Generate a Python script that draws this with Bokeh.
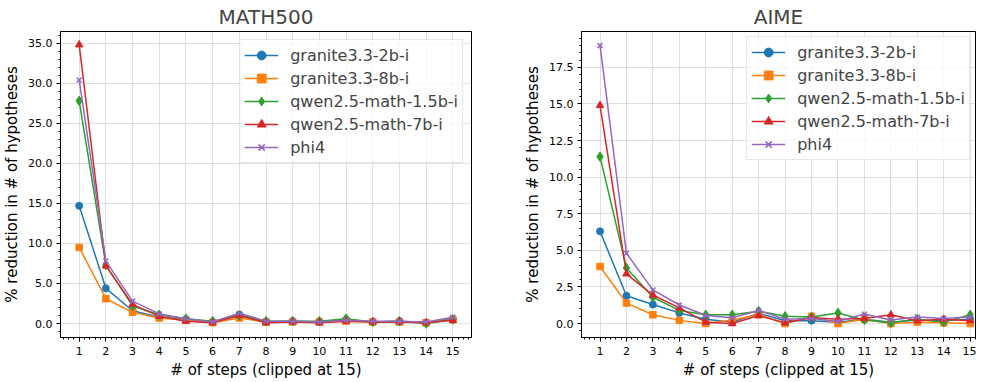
from bokeh.plotting import figure
from bokeh.layouts import row
from bokeh.models import Range1d, SingleIntervalTicker, NumeralTickFormatter, Legend, LegendItem
from bokeh.embed import file_html
from bokeh.resources import INLINE

steps = list(range(1, 16))
models = ["granite3.3-2b-i", "granite3.3-8b-i", "qwen2.5-math-1.5b-i", "qwen2.5-math-7b-i", "phi4"]

math_granite2b = [14.7, 4.4, 1.6, 0.8, 0.5, 0.2, 1.1, 0.2, 0.3, 0.2, 0.5, 0.2, 0.3, 0.1, 0.6]
math_granite8b = [9.5, 3.1, 1.4, 0.7, 0.4, 0.1, 0.7, 0.2, 0.2, 0.2, 0.3, 0.2, 0.2, 0.1, 0.5]
math_qwen15b = [27.8, 7.3, 2.2, 1.1, 0.6, 0.3, 1.0, 0.3, 0.3, 0.3, 0.6, 0.2, 0.3, 0.0, 0.5]
math_qwen7b = [34.8, 7.2, 2.4, 0.9, 0.3, 0.1, 1.0, 0.1, 0.2, 0.1, 0.3, 0.2, 0.2, 0.1, 0.4]
math_phi4 = [30.4, 7.8, 2.8, 1.2, 0.6, 0.2, 1.3, 0.3, 0.3, 0.2, 0.4, 0.3, 0.3, 0.2, 0.8]

aime_granite2b = [6.3, 1.9, 1.3, 0.73, 0.3, 0.1, 0.7, 0.2, 0.2, 0.1, 0.3, 0.1, 0.25, 0.2, 0.3]
aime_granite8b = [3.9, 1.4, 0.6, 0.22, 0.0, 0.25, 0.6, 0.0, 0.5, 0.0, 0.3, 0.0, 0.1, 0.05, 0.0]
aime_qwen15b = [11.4, 3.8, 1.8, 0.9, 0.6, 0.6, 0.85, 0.5, 0.45, 0.73, 0.25, 0.05, 0.3, 0.1, 0.6]
aime_qwen7b = [14.9, 3.4, 1.95, 1.07, 0.1, 0.0, 0.55, 0.05, 0.4, 0.3, 0.35, 0.6, 0.2, 0.3, 0.2]
aime_phi4 = [19.0, 4.8, 2.3, 1.27, 0.55, 0.4, 0.9, 0.3, 0.35, 0.15, 0.65, 0.25, 0.45, 0.35, 0.45]

colors = ["#1f77b4", "#ff7f0e", "#2ca02c", "#d62728", "#9467bd"]
markers = ["circle", "square", "diamond", "triangle", "x"]
msizes = [7, 6.5, 9.5, 7.5, 7]

FONT = "DejaVu Sans"


def make_panel(title, series, y_range, y_interval, frame_w, left, right, x_end, leg_margin):
    p = figure(frame_width=frame_w, frame_height=306, output_backend="svg", toolbar_location=None,
               x_range=Range1d(0.3, x_end), y_range=Range1d(*y_range),
               min_border_left=left, min_border_right=right,
               min_border_top=0, min_border_bottom=0)
    p.title.text = title
    p.title.align = "center"
    p.title.text_font = FONT
    p.title.text_font_size = "20px"
    p.title.text_font_style = "normal"
    p.title.standoff = 5
    p.outline_line_color = "black"
    p.outline_line_width = 1
    p.outline_line_alpha = 1
    p.background_fill_color = "white"
    p.border_fill_color = "white"

    p.xaxis.ticker = SingleIntervalTicker(interval=1, num_minor_ticks=5)
    p.yaxis.ticker = SingleIntervalTicker(interval=y_interval, num_minor_ticks=5)
    p.yaxis.formatter = NumeralTickFormatter(format="0.0")
    for ax in (p.xaxis, p.yaxis):
        ax.axis_line_color = "black"
        ax.major_tick_in = 0
        ax.major_tick_out = 4
        ax.minor_tick_in = 0
        ax.minor_tick_out = 2
        ax.major_tick_line_color = "black"
        ax.minor_tick_line_color = "black"
        ax.major_label_text_font = FONT
        ax.major_label_text_font_size = "11px"
        ax.major_label_text_color = "black"
        ax.axis_label_text_font = FONT
        ax.axis_label_text_font_size = "15px"
        ax.axis_label_text_font_style = "normal"
        ax.axis_label_text_color = "black"
        ax.major_label_standoff = 4
        ax.axis_label_standoff = 4
    p.xaxis.major_label_standoff = 5
    p.xaxis.axis_label_standoff = 3
    p.xaxis.axis_label = "# of steps (clipped at 15)"
    p.yaxis.axis_label = "% reduction in # of hypotheses"

    p.xgrid.grid_line_color = "#b0b0b0"
    p.ygrid.grid_line_color = "#b0b0b0"
    p.xgrid.grid_line_alpha = 0.4
    p.ygrid.grid_line_alpha = 0.4
    p.xgrid.grid_line_width = 1
    p.ygrid.grid_line_width = 1

    items = []
    for name, vals, c, m, s in zip(models, series, colors, markers, msizes):
        ln = p.line(steps, vals, line_color=c, line_width=1.5)
        sc = p.scatter(steps, vals, marker=m, size=s, fill_color=c,
                       line_color=c, line_width=1.5 if m == "x" else 1)
        items.append(LegendItem(label=name, renderers=[ln, sc]))

    leg = Legend(items=items, location="top_right", margin=leg_margin, padding=4, spacing=1,
                 label_height=22, glyph_height=22, glyph_width=34, label_standoff=12,
                 label_text_font=FONT, label_text_font_size="16px",
                 border_line_color="#cccccc", border_line_width=1,
                 background_fill_color="white", background_fill_alpha=0.8)
    p.add_layout(leg, "center")
    return p


p1 = make_panel("MATH500",
                [math_granite2b, math_granite8b, math_qwen15b, math_qwen7b, math_phi4],
                (-1.74, 36.45), 5, 411, 57, 32, 15.7, 8)
p2 = make_panel("AIME",
                [aime_granite2b, aime_granite8b, aime_qwen15b, aime_qwen7b, aime_phi4],
                (-0.95, 19.95), 2.5, 394, 78, 1, 15.2, 5)

layout = row(p1, p2)
open("out.html", "w").write(file_html(layout, INLINE))
